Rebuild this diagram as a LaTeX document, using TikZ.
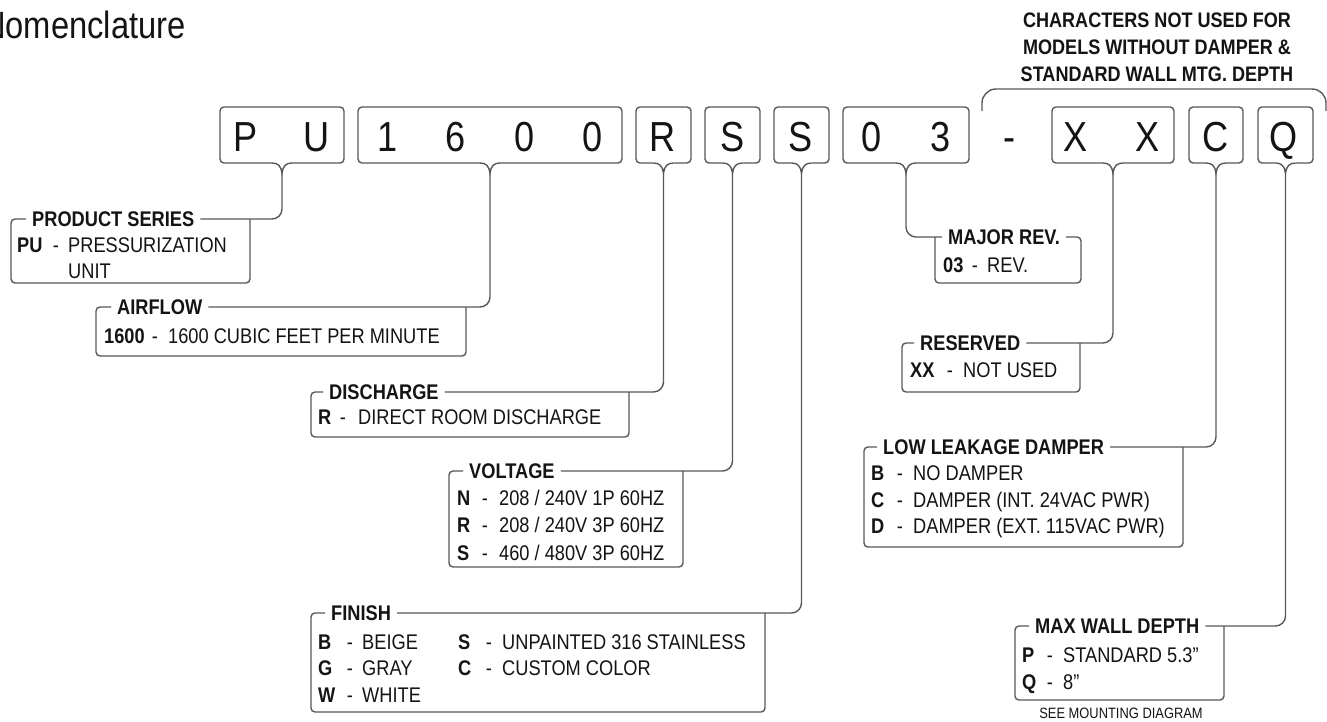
\documentclass[tikz,border=0pt]{standalone}
\usepackage{fontspec}
\setmainfont{Liberation Sans}[FakeStretch=0.86]
\definecolor{lncol}{RGB}{88,88,88}
\definecolor{txtcol}{RGB}{20,20,20}
\newcommand\tbox[4]{% name, L, R, c
  \draw[ln, rounded corners=4pt] ({#4+10},163) -- (#3,163) -- (#3,107) -- (#2,107) -- (#2,163) -- ({#4-10},163);
  \draw[ln] ({#4-10},163) .. controls ({#4-4},163) and ({#4-1},166) .. (#4,173) .. controls ({#4+1},166) and ({#4+4},163) .. ({#4+10},163);
  \coordinate (#1) at (#4,173);
}
\newcommand\dbox[8]{% name, L, R, T, B, text start x, header, tip
  \node[hdr] (#1) at ({#6-6},#4) {#7};
  \draw[ln, rounded corners=4pt] (#1.west) -| (#2,#5) -| (#3,#4);
  \draw[ln, rounded corners=10pt] (#1.east) -| (#8);
}
\newcommand\crow[7]{% name, code x, dash x, text x, y centre, code, text
  \node[code, anchor=base west] (#1c) at (#2,{#5+7.6}) {#6};
  \node[txt, anchor=base] (#1d) at (#3,{#5+7.6}) {-};
  \node[txt, anchor=base west] (#1t) at (#4,{#5+7.6}) {#7};
}
\begin{document}
\begin{tikzpicture}[x=1pt,y=-1pt,
  ln/.style={draw=lncol, line width=1.4pt},
  hdr/.style={font=\fontsize{21.2}{24}\selectfont\bfseries, text=txtcol, inner xsep=6pt, inner ysep=0pt, anchor=west},
  txt/.style={font=\fontsize{21.2}{24}\selectfont, text=txtcol, inner sep=0pt},
  code/.style={font=\fontsize{21.2}{24}\selectfont\bfseries, text=txtcol, inner sep=0pt},
  big/.style={font=\fontsize{42}{48}\selectfont, text=txtcol, inner sep=0pt, anchor=base},
  ttl/.style={font=\fontsize{38}{44}\selectfont, text=txtcol, inner sep=0pt, anchor=base west},
  note/.style={font=\fontsize{21}{27}\selectfont\bfseries, text=txtcol, inner sep=0pt, align=center},
  small/.style={font=\fontsize{15}{18}\selectfont, text=txtcol, inner sep=0pt, anchor=base}
]
\useasboundingbox (0,0) rectangle (1327,722);
\fill[white] (0,0) rectangle (1327,722);

% title
\node[ttl] (title) at (-18,39) {Nomenclature};

% note above bracket
\node[txtcol, note, anchor=base] (n1) at (1157,28) {CHARACTERS NOT USED FOR};
\node[txtcol, note, anchor=base] (n2) at (1157,55) {MODELS WITHOUT DAMPER \&};
\node[txtcol, note, anchor=base] (n3) at (1157,82) {STANDARD WALL MTG. DEPTH};
\coordinate (brL) at (982,111);
\coordinate (brR) at (1326,111);
\draw[ln, rounded corners=14pt] (brL) -- (982,89) -- (1326,89) -- (brR);

% top code boxes
\tbox{tPU}{220}{344}{282}
\tbox{t1600}{358}{622}{490}
\tbox{tR}{636}{691}{663.5}
\tbox{tSa}{705}{760}{732.5}
\tbox{tSb}{774}{829}{801.5}
\tbox{t03}{843}{969}{906}
\tbox{tXX}{1052}{1174}{1113}
\tbox{tC}{1189}{1243}{1216}
\tbox{tQ}{1258}{1313}{1285.5}

\node[big] (lP) at (246,152) {P};
\node[big] (lU) at (317,152) {U};
\node[big] (l1) at (388,152) {1};
\node[big] (l6) at (456,152) {6};
\node[big] (l0a) at (525,152) {0};
\node[big] (l0b) at (593,152) {0};
\node[big] (lR) at (663,152) {R};
\node[big] (lSa) at (733,152) {S};
\node[big] (lSb) at (801,152) {S};
\node[big] (l0c) at (872,152) {0};
\node[big] (l3) at (941,152) {3};
\node[big] (ldash) at (1009,152) {-};
\node[big] (lXa) at (1076,152) {X};
\node[big] (lXb) at (1148,152) {X};
\node[big] (lC) at (1216,152) {C};
\node[big] (lQ) at (1284,152) {Q};

% description boxes
\dbox{hPS}{11}{250}{219}{283}{32}{PRODUCT SERIES}{tPU}
\crow{ps1}{17}{56}{68}{245}{PU}{PRESSURIZATION}
\node[txt, anchor=base west] (ps2t) at (68,278.6) {UNIT};

\dbox{hAF}{96}{466}{307}{356}{117}{AIRFLOW}{t1600}
\crow{af1}{104}{155}{168}{336}{1600}{1600 CUBIC FEET PER MINUTE}

\dbox{hDI}{311}{629}{392}{437}{329}{DISCHARGE}{tR}
\crow{di1}{318}{343}{358}{417}{R}{DIRECT ROOM DISCHARGE}

\dbox{hVO}{449}{683}{471}{567}{469}{VOLTAGE}{tSa}
\crow{vo1}{457}{485}{499}{498}{N}{208 / 240V 1P 60HZ}
\crow{vo2}{457}{485}{499}{525}{R}{208 / 240V 3P 60HZ}
\crow{vo3}{457}{485}{499}{553}{S}{460 / 480V 3P 60HZ}

\dbox{hFI}{311}{765}{613}{712}{331}{FINISH}{tSb}
\crow{fi1}{318}{350}{362}{642}{B}{BEIGE}
\crow{fi2}{318}{350}{362}{668}{G}{GRAY}
\crow{fi3}{318}{350}{362}{695}{W}{WHITE}
\crow{fi4}{458}{489}{502}{642}{S}{UNPAINTED 316 STAINLESS}
\crow{fi5}{458}{489}{502}{668}{C}{CUSTOM COLOR}

% major rev (joined from the left)
\node[hdr] (hMR) at (942,237) {MAJOR REV.};
\draw[ln, rounded corners=4pt] (hMR.east) -| (1081,283) -| (935,237);
\draw[ln, rounded corners=10pt] (hMR.west) -| (t03);
\crow{mr1}{943}{975}{987}{265}{03}{REV.}

\dbox{hRE}{902}{1080}{343}{392}{920}{RESERVED}{tXX}
\crow{re1}{910}{950}{963}{370}{XX}{NOT USED}

\dbox{hLL}{864}{1183}{447}{547}{883}{LOW LEAKAGE DAMPER}{tC}
\crow{ll1}{871}{900}{913}{473}{B}{NO DAMPER}
\crow{ll2}{871}{900}{913}{500}{C}{DAMPER (INT. 24VAC PWR)}
\crow{ll3}{871}{900}{913}{526}{D}{DAMPER (EXT. 115VAC PWR)}

\dbox{hMW}{1015}{1224}{626}{700}{1035}{MAX WALL DEPTH}{tQ}
\crow{mw1}{1022}{1050}{1063}{655}{P}{STANDARD 5.3"}
\crow{mw2}{1022}{1050}{1063}{682}{Q}{8"}
\node[small] (see) at (1121,718) {SEE MOUNTING DIAGRAM};
\end{tikzpicture}
\end{document}
